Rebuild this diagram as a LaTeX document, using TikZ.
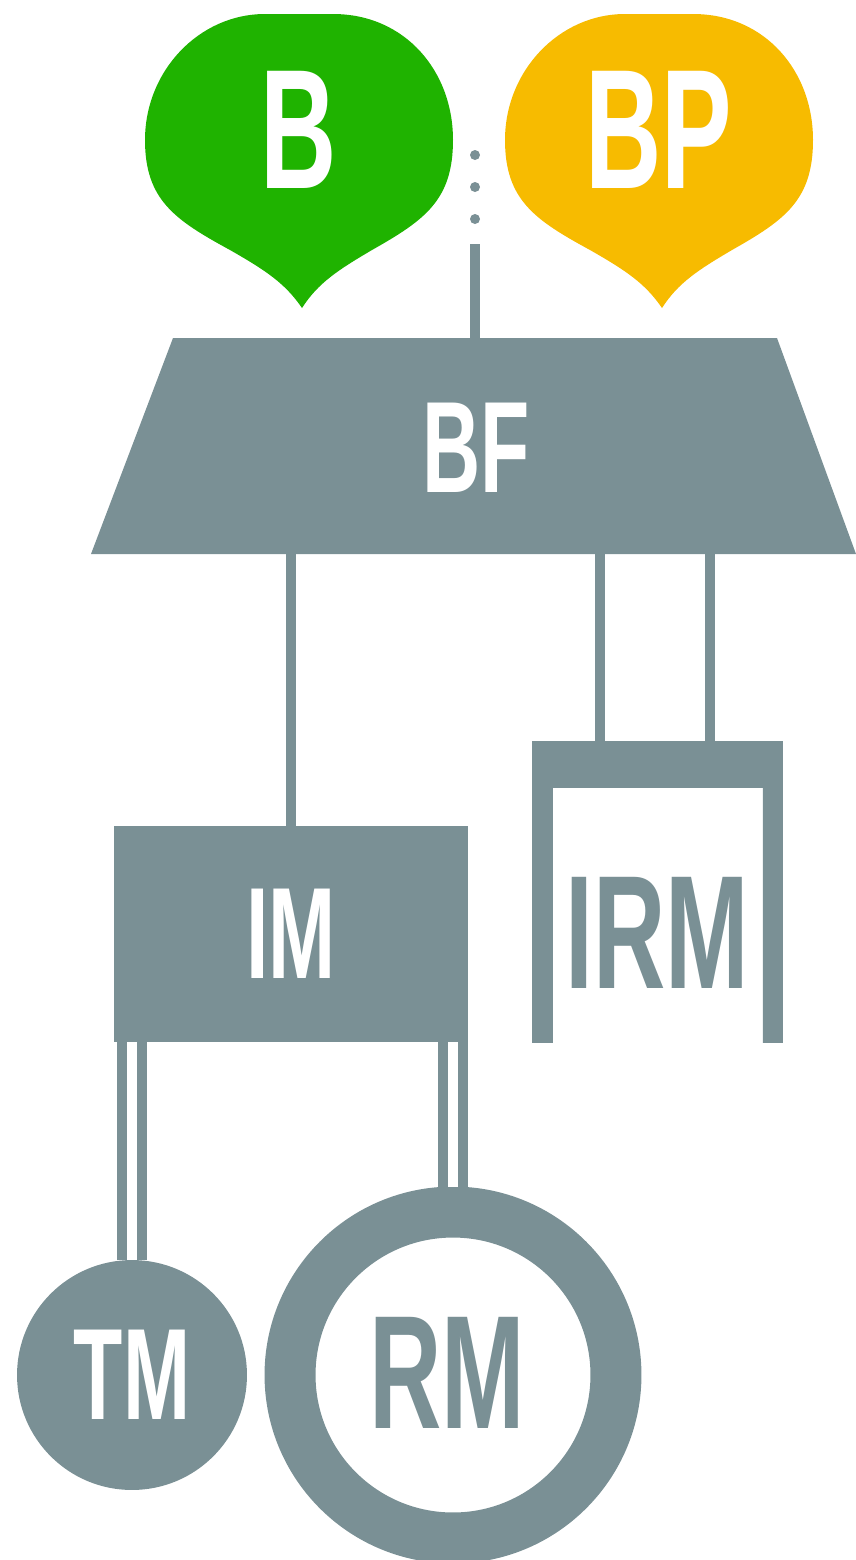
\documentclass[tikz,border=0pt]{standalone}
\usepackage{fontspec}
\newfontfamily\lblfont{Liberation Sans}[FakeStretch=0.62]
\usetikzlibrary{calc}
\definecolor{slate}{RGB}{122,144,149}
\definecolor{leafgreen}{RGB}{31,179,0}
\definecolor{amber}{RGB}{247,187,0}
\tikzset{
  lbl/.style={inner sep=0pt, font=\lblfont\bfseries\fontsize{#1}{#1}\selectfont},
  lbl/.default=74,
  plate/.style={fill=slate, inner sep=0pt, outer sep=0pt, text=white},
  link/.style={slate, line width=0.2cm},
  dlink/.style={link, double=white, double distance=0.2cm},
}
\begin{document}
\begin{tikzpicture}[x=0.02cm, y=-0.02cm]
  \useasboundingbox (0,0) rectangle (856,1560);
  % the two bubbles
  \foreach \dx/\col/\nm/\txt in {0/leafgreen/b/B, 360/amber/bp/BP}{
    \begin{scope}[xshift=\dx*0.02cm]
      \fill[\col] (302,308) .. controls (285,283) and (265,270) .. (230,250)
        .. controls (175,220) and (145,200) .. (145,140)
        .. controls (145,71) and (199,14) .. (265,14) -- (333,14)
        .. controls (405,14) and (453,71) .. (453,140)
        .. controls (453,200) and (425,220) .. (372,250)
        .. controls (338,270) and (318,283) .. (302,308) -- cycle;
      \node[lbl=97, text=white] (\nm) at (299,130) {\txt};
    \end{scope}
  }
  \foreach \y in {155,187,219} \fill[slate] (475,\y) circle (0.1cm);
  \coordinate (tap) at (475,244);

  % BF
  \fill[slate] (173,338) -- (777,338) -- (856,554) -- (91,554) coordinate (bfsw) -- cycle;
  \node[lbl, text=white] (bf) at (476,448) {BF};
  \coordinate (bftop) at (475,338);
  \draw[link] (bftop) -- (tap);

  % IM
  \node[plate, lbl, minimum width=7.08cm, minimum height=4.34cm] (im) at (291,934) {IM};
  \draw[link] (im.north |- bfsw) -- (im.north);

  % IRM
  \node[inner sep=0pt, outer sep=0pt, minimum width=5.02cm, minimum height=6.04cm] (irm) at (657.5,892) {};
  \fill[slate] (irm.south west) |- (irm.north east) -- (irm.south east)
    -- ++(-20,0) -- ++(0,-255) -- ++(-210,0) -- ++(0,255) -- cycle;
  \node[lbl=92, text=slate] (irmlbl) at (657,933) {IRM};
  \coordinate (irmin1) at ($(irm.north)+(-57.5,0)$);
  \coordinate (irmin2) at ($(irm.north)+(52.5,0)$);
  \draw[link] (irmin1 |- bfsw) -- (irmin1);
  \draw[link] (irmin2 |- bfsw) -- (irmin2);

  % TM, RM
  \node[circle, plate, lbl, minimum size=4.6cm] (tm) at (132,1375) {TM};
  \node[circle, draw=slate, line width=1.02cm, minimum size=6.52cm, inner sep=0pt] (rm) at (453,1375) {};
  \node[lbl=92, text=slate] (rmlbl) at (447,1373) {RM};
  \draw[dlink] (tm.north |- im.south) -- (tm.north);
  \draw[dlink] (rm.north |- im.south) -- (rm.north);
\end{tikzpicture}
\end{document}
